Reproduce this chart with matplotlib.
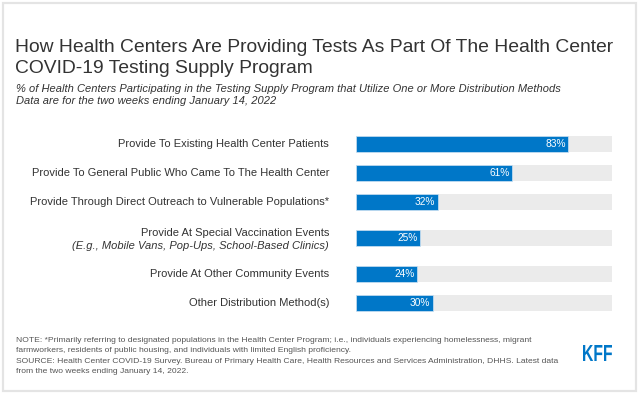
import numpy as np
import matplotlib.pyplot as plt
from matplotlib.patches import Rectangle, PathPatch
from matplotlib.textpath import TextPath
from matplotlib.font_manager import FontProperties
from matplotlib.transforms import Affine2D

plt.rcParams['font.family'] = ['Liberation Sans', 'DejaVu Sans']

# data
categories = [
    "Provide To Existing Health Center Patients",
    "Provide To General Public Who Came To The Health Center",
    "Provide Through Direct Outreach to Vulnerable Populations*",
    "Provide At Special Vaccination Events",
    "Provide At Other Community Events",
    "Other Distribution Method(s)",
]
sublabels = ["", "", "", "(E.g., Mobile Vans, Pop-Ups, School-Based Clinics)", "", ""]
values = [83, 61, 32, 25, 24, 30]

title = "How Health Centers Are Providing Tests As Part Of The Health Center\nCOVID-19 Testing Supply Program"
subtitle = ("% of Health Centers Participating in the Testing Supply Program that Utilize One or More Distribution Methods\n"
            "Data are for the two weeks ending January 14, 2022")
note = ["NOTE: *Primarily referring to designated populations in the Health Center Program; i.e., individuals experiencing homelessness, migrant",
        "farmworkers, residents of public housing, and individuals with limited English proficiency.",
        "SOURCE: Health Center COVID-19 Survey. Bureau of Primary Health Care, Health Resources and Services Administration, DHHS. Latest data",
        "from the two weeks ending January 14, 2022."]

blue = "#0077c8"
grey = "#ebebeb"
txt = "#333333"

W, H = 640, 394
fig = plt.figure(figsize=(6.4, 3.94), dpi=100)

def fx(x):
    return x / W

def fy(y):
    return 1 - y / H

# frame
fig.patches.append(Rectangle((fx(2.5), fy(390.5)), fx(633.5), (388 / H), transform=fig.transFigure,
                             fill=False, edgecolor="#e4e4e4", linewidth=1.6))

# va baseline on multi-line text -> last line
fig.text(fx(15), fy(73), title, fontsize=13.85, color=txt, va='baseline', linespacing=1.33)
fig.text(fx(16), fy(104), subtitle, fontsize=8.0, color=txt, style='italic', va='baseline', linespacing=1.3)

# bar positions (pixel layout, extra room for two line labels)
nlines = [2 if s else 1 for s in sublabels]
pos = [144]
for i in range(1, len(values)):
    pos.append(pos[-1] + 29 + 7 * (nlines[i - 1] - 1) + 7 * (nlines[i] - 1))
pos = np.array(pos)

top, bot = 125, 320
ax = fig.add_axes([fx(356), fy(bot), fx(612) - fx(356), (bot - top) / H])
ax.set_xlim(0, 100)
ax.set_ylim(bot, top)
ax.axis('off')

ax.barh(pos, [100] * len(values), height=16, color=grey, linewidth=0)
ax.barh(pos, values, height=16, color=blue, edgecolor="#cfe3f3", linewidth=0.5)
for p, v in zip(pos, values):
    ax.text(v - 1, p, f"{v}%", color='white', fontsize=7.3, ha='right', va='center')

for p, c, s in zip(pos, categories, sublabels):
    if s:
        ax.text(-10.5, p - 5, c, fontsize=8.0, color=txt, ha='right', va='center', clip_on=False)
        ax.text(-10.5, p + 8, s, fontsize=8.0, color=txt, ha='right', va='center', style='italic', clip_on=False)
    else:
        ax.text(-10.5, p, c, fontsize=8.0, color=txt, ha='right', va='center', clip_on=False)

# footer
for i, line in enumerate(note):
    fig.text(fx(16), fy(340 + 10.6 * i), line, fontsize=6.1, color="#555555", va='center')

# logo, squeezed into its box
tp = TextPath((0, 0), "KFF", size=10, prop=FontProperties(family='Liberation Sans', weight='bold'))
ext = tp.get_extents()
x0, x1, y0, y1 = 583, 612, 345, 361
tr = (Affine2D().translate(-ext.x0, -ext.y0)
      .scale((x1 - x0) / ext.width / W, (y1 - y0) / ext.height / H)
      .translate(fx(x0), fy(y1)) + fig.transFigure)
fig.patches.append(PathPatch(tp, transform=tr, facecolor=blue, edgecolor='none'))

fig.savefig("out.png", dpi=100)
